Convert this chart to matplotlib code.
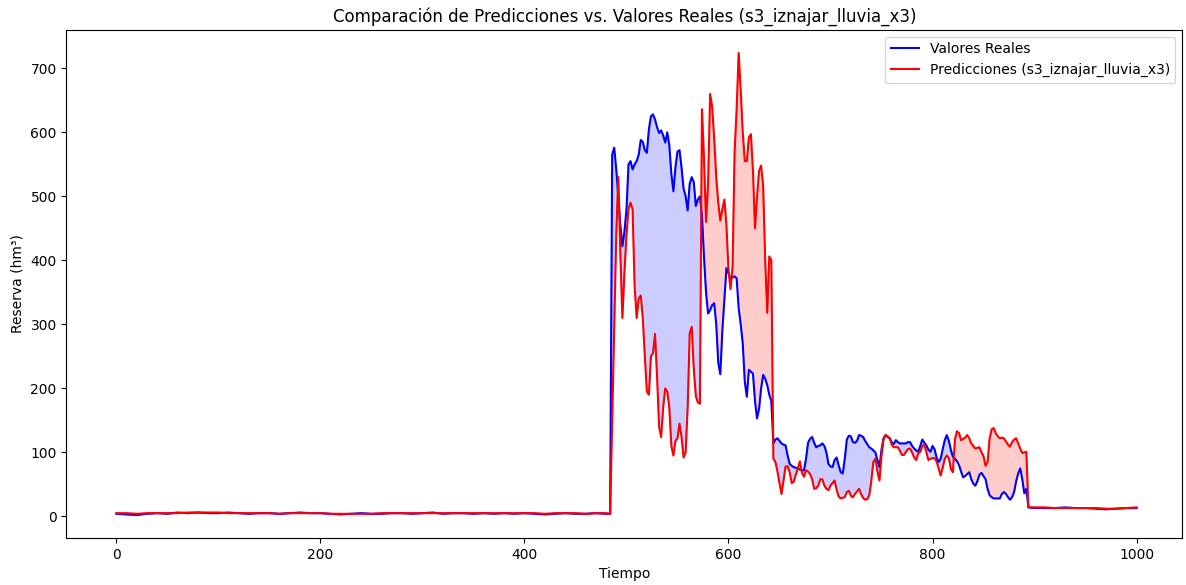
import numpy as np
import matplotlib
matplotlib.use("Agg")
import matplotlib.pyplot as plt

# tiempo: tramo bajo, tramo activo (paso 2) y cola
t_bajo = list(range(0, 481, 10)) + [484]
t_activo = list(range(486, 895, 2))
t_cola = list(range(900, 1001, 10))
tiempo = np.array(t_bajo + t_activo + t_cola)

real_bajo = [4, 3, 2, 4, 5, 4, 6, 5, 6, 5,
             5, 6, 5, 4, 5, 5, 4, 5, 6, 5,
             5, 4, 3, 4, 5, 4, 4, 5, 5, 4,
             5, 6, 4, 5, 5, 4, 5, 4, 5, 4,
             5, 4, 3, 4, 5, 4, 4, 5, 4, 4]
pred_bajo = [5, 5, 4, 5, 5, 5, 5, 6, 6, 6,
             6, 5, 5, 5, 5, 5, 4, 5, 5, 5,
             5, 4, 4, 4, 4, 4, 5, 5, 5, 5,
             5, 5, 5, 5, 5, 5, 5, 5, 5, 5,
             5, 5, 4, 5, 5, 5, 4, 5, 5, 4]

real_activo = [565, 576, 542, 500, 455, 422, 445, 479, 550, 555,
               542, 550, 555, 565, 588, 585, 572, 568, 605, 625,
               628, 620, 608, 599, 603, 595, 584, 600, 580, 535,
               508, 545, 570, 572, 545, 512, 500, 478, 520, 530,
               522, 485, 495, 500, 470, 405, 350, 317, 322, 330,
               333, 300, 240, 222, 290, 340, 388, 380, 372, 373,
               375, 372, 325, 300, 270, 210, 187, 229, 226, 223,
               180, 153, 168, 200, 221, 215, 205, 190, 180, 114,
               120, 122, 118, 114, 112, 111, 95, 82, 79, 77,
               76, 75, 73, 72, 72, 90, 115, 121, 124, 115,
               108, 110, 111, 114, 110, 100, 82, 78, 77, 88,
               92, 80, 69, 67, 90, 120, 126, 125, 116, 115,
               118, 127, 126, 124, 118, 113, 108, 106, 103, 100,
               88, 77, 104, 122, 127, 124, 122, 116, 113, 119,
               116, 114, 114, 114, 114, 116, 116, 110, 106, 103,
               101, 110, 120, 115, 111, 104, 101, 110, 105, 92,
               85, 90, 105, 119, 127, 118, 104, 93, 90, 86,
               80, 70, 61, 63, 66, 69, 58, 51, 48, 55,
               65, 68, 63, 58, 43, 33, 30, 28, 28, 28,
               28, 35, 38, 35, 30, 26, 30, 38, 55, 67,
               75, 58, 36, 43, 14]
pred_activo = [150, 300, 440, 530, 410, 310, 380, 440, 480, 490,
               480, 360, 310, 340, 345, 310, 250, 195, 190, 250,
               255, 285, 218, 140, 124, 170, 200, 195, 170, 110,
               95, 118, 122, 145, 124, 92, 100, 170, 286, 296,
               230, 188, 178, 176, 636, 560, 460, 520, 660, 640,
               590, 530, 490, 462, 480, 495, 455, 385, 355, 390,
               570, 636, 724, 665, 600, 555, 555, 592, 597, 540,
               450, 500, 540, 548, 516, 400, 318, 406, 400, 90,
               85, 70, 52, 35, 56, 78, 78, 69, 52, 54,
               65, 75, 86, 68, 62, 72, 70, 66, 58, 43,
               44, 48, 58, 58, 48, 43, 41, 48, 52, 56,
               42, 31, 28, 29, 30, 38, 40, 32, 30, 35,
               39, 43, 35, 29, 26, 27, 33, 55, 85, 90,
               70, 56, 95, 120, 127, 125, 122, 112, 108, 108,
               108, 103, 96, 96, 101, 105, 106, 100, 92, 88,
               98, 101, 110, 112, 100, 88, 90, 91, 91, 86,
               75, 64, 76, 90, 95, 91, 74, 69, 120, 133,
               130, 119, 121, 123, 127, 122, 114, 110, 106, 107,
               108, 100, 94, 79, 85, 122, 136, 138, 130, 125,
               122, 123, 122, 117, 112, 109, 116, 120, 122, 114,
               106, 99, 100, 101, 14]

real_cola = [13, 13, 13, 14, 13, 13, 12, 11, 12, 13, 13]
pred_cola = [14, 14, 13, 13, 13, 13, 13, 12, 12, 13, 14]

reales = np.array(real_bajo + real_activo + real_cola, dtype=float)
predicciones = np.array(pred_bajo + pred_activo + pred_cola, dtype=float)

fig, ax = plt.subplots(figsize=(11.86, 5.85), dpi=100)
fig.subplots_adjust(left=0.056, right=0.997, top=0.949, bottom=0.08)

ax.plot(tiempo, reales, color="blue", label="Valores Reales")
ax.plot(tiempo, predicciones, color="red", label="Predicciones (s3_iznajar_lluvia_x3)")
ax.fill_between(tiempo, reales, predicciones, where=reales >= predicciones,
                color="blue", alpha=0.2, interpolate=True)
ax.fill_between(tiempo, reales, predicciones, where=reales < predicciones,
                color="red", alpha=0.2, interpolate=True)

ax.set_xlim(-49, 1045)
ax.set_title("Comparación de Predicciones vs. Valores Reales (s3_iznajar_lluvia_x3)")
ax.set_xlabel("Tiempo")
ax.set_ylabel("Reserva (hm³)")
ax.legend(loc="upper right")

fig.savefig("out.png")
